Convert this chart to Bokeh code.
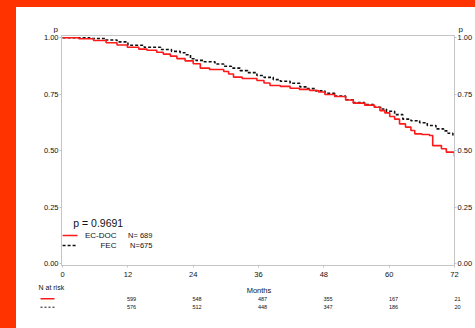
from bokeh.plotting import figure
from bokeh.models import (Range1d, LinearAxis, FixedTicker,
                          GlobalInlineStyleSheet, PrintfTickFormatter)
from bokeh.core.properties import value
from bokeh.embed import file_html
from bokeh.resources import INLINE

# ---------------- data ----------------
months_ecdoc = [0, 3, 5.7, 8, 10, 11.9, 14, 15.5, 17.3, 18.5, 19.8, 21, 22.5, 24,
                25.3, 27, 29.6, 30.5, 31.4, 33, 35.7, 37, 38.1, 40, 41.8, 43.5,
                45.4, 47, 48.2, 50, 52, 53.4, 55.5, 57.3, 58.3, 59.2, 60.1, 61,
                61.9, 63, 64, 64.7, 66, 67.4, 68, 69.6, 70.5, 71.3, 72]
surv_ecdoc = [1.000, 0.996, 0.988, 0.978, 0.968, 0.958, 0.950, 0.945, 0.936, 0.928,
              0.919, 0.908, 0.898, 0.885, 0.866, 0.860, 0.851, 0.840, 0.826, 0.820,
              0.811, 0.800, 0.789, 0.785, 0.777, 0.772, 0.767, 0.760, 0.749, 0.740,
              0.725, 0.711, 0.702, 0.693, 0.678, 0.668, 0.652, 0.640, 0.619, 0.605,
              0.590, 0.575, 0.572, 0.568, 0.523, 0.509, 0.494, 0.494, 0.475]

months_fec = [0, 5, 8, 10, 12, 15, 18, 20, 21.6, 22.5, 23.5, 24.5, 26, 28, 29.6,
              31, 32.6, 34, 35.7, 37, 38.7, 40, 41.8, 43.6, 45, 46.5, 48.2, 50, 52,
              53.4, 55.5, 57.3, 58.5, 59.5, 61, 62.5, 64, 65.6, 67, 68.6, 70, 70.8,
              71.7]
surv_fec = [1.000, 0.997, 0.990, 0.982, 0.967, 0.958, 0.948, 0.940, 0.934, 0.925,
            0.907, 0.900, 0.894, 0.884, 0.874, 0.866, 0.855, 0.846, 0.833, 0.825,
            0.815, 0.808, 0.799, 0.783, 0.775, 0.765, 0.755, 0.742, 0.726, 0.713,
            0.705, 0.693, 0.685, 0.675, 0.660, 0.640, 0.633, 0.624, 0.612, 0.597,
            0.588, 0.578, 0.560]

x_ticks = [0, 12, 24, 36, 48, 60, 72]
y_ticks = [0.0, 0.25, 0.5, 0.75, 1.0]

risk_months = [12, 24, 36, 48, 60, 72]
risk_ecdoc = [599, 548, 487, 355, 167, 21]
risk_fec = [576, 512, 448, 347, 186, 20]

name_ecdoc = "EC-DOC"
name_fec = "FEC"
n_ecdoc = 689
n_fec = 675
p_value = "0.9691"

# ---------------- styling ----------------
FONT = "Liberation Sans"
RED = "#ff1a1a"
BLACK = "#111111"
FRAME = "#c4c4c4"
ORANGE = "#ff3300"
W = 475


def bare(fig):
    fig.border_fill_color = None
    fig.background_fill_color = None
    fig.outline_line_color = None
    fig.grid.visible = False


# ---------------- header ("p" above both vertical axes) ----------------
h = figure(width=W, height=33, output_backend="svg", toolbar_location=None,
           x_range=Range1d(-11.36, 75.67), y_range=Range1d(33, 0), min_border=0,
           x_axis_location=None, y_axis_location=None)
bare(h)
h.text(x=[-0.82], y=[29], text=["p"], text_align="right", text_baseline="middle",
       text_font=value(FONT), text_font_size="8px", text_color="#111111")
h.text(x=[72.55], y=[29], text=["p"], text_align="left", text_baseline="middle",
       text_font=value(FONT), text_font_size="8px", text_color="#111111")

# ---------------- main KM plot ----------------
p = figure(width=W, height=247, output_backend="svg", toolbar_location=None,
           x_range=Range1d(-0.2, 72.0), y_range=Range1d(-0.0075, 1.0102),
           min_border_left=61, min_border_right=20, min_border_top=2,
           min_border_bottom=15)
p.border_fill_color = None
p.background_fill_color = "white"
p.outline_line_color = FRAME
p.outline_line_width = 1
p.grid.visible = False

p.xaxis.ticker = FixedTicker(ticks=x_ticks)
p.xaxis.formatter = PrintfTickFormatter(format="%d")
p.yaxis.ticker = FixedTicker(ticks=y_ticks)
p.yaxis.formatter = PrintfTickFormatter(format="%.2f")

right_axis = LinearAxis(ticker=FixedTicker(ticks=y_ticks),
                        formatter=PrintfTickFormatter(format="%.2f"))
p.add_layout(right_axis, "right")

for ax in p.axis:
    ax.axis_line_color = FRAME
    ax.major_tick_line_color = FRAME
    ax.major_tick_in = 0
    ax.major_tick_out = 2
    ax.minor_tick_line_color = None
    ax.major_label_text_font = FONT
    ax.major_label_text_font_size = "7.5px"
    ax.major_label_text_color = "#111111"
p.xaxis.major_label_standoff = 4
p.yaxis.major_label_standoff = 1
right_axis.major_label_standoff = 1

# curves
p.step(months_fec, surv_fec, mode="after", line_color=BLACK, line_width=1.6,
       line_dash="3 2")
p.step(months_ecdoc, surv_ecdoc, mode="after", line_color=RED, line_width=1.6)

# in-plot legend
p.text(x=[1.96], y=[0.181], text=[f"p = {p_value}"], text_align="left",
       text_baseline="middle", text_font=value(FONT), text_font_size="10.5px",
       text_color="#111111")
p.line([0, 2.75], [0.125, 0.125], line_color=RED, line_width=1.6)
p.line([0, 2.75], [0.081, 0.081], line_color=BLACK, line_width=1.5,
       line_dash="3 2")
p.text(x=[9.9, 9.9], y=[0.125, 0.081], text=[name_ecdoc, name_fec],
       text_align="right", text_baseline="middle", text_font=value(FONT),
       text_font_size="8px", text_color="#111111")
p.text(x=[16.5, 16.5], y=[0.125, 0.081],
       text=[f"N= {n_ecdoc}", f"N={n_fec}"], text_align="right",
       text_baseline="middle", text_font=value(FONT), text_font_size="7.5px",
       text_color="#111111")

# ---------------- number-at-risk table ----------------
t = figure(width=W, height=48, output_backend="svg", toolbar_location=None,
           x_range=Range1d(-11.36, 75.67), y_range=Range1d(48, 0),
           min_border=0, x_axis_location=None, y_axis_location=None)
bare(t)

t.text(x=[36], y=[10], text=["Months"], text_align="center",
       text_baseline="middle", text_font=value(FONT), text_font_size="7.5px",
       text_color="#111111")
t.text(x=[-4.4], y=[7.3], text=["N at risk"], text_align="left",
       text_baseline="middle", text_font=value(FONT), text_font_size="7px",
       text_color="#111111")
t.segment(x0=[-4.03], y0=[18.3], x1=[-1.47], y1=[18.3], line_color=RED,
          line_width=1.4)
t.segment(x0=[-4.03], y0=[26.7], x1=[-1.47], y1=[26.7], line_color=BLACK,
          line_width=1.0, line_dash="2 2")
t.text(x=[m - 0.2 for m in risk_months], y=[18.3] * len(risk_months),
       text=[str(v) for v in risk_ecdoc], text_align="left",
       text_baseline="middle", text_font=value(FONT), text_font_size="5.5px",
       text_color="#111111")
t.text(x=[m - 0.2 for m in risk_months], y=[26.7] * len(risk_months),
       text=[str(v) for v in risk_fec], text_align="left",
       text_baseline="middle", text_font=value(FONT), text_font_size="5.5px",
       text_color="#111111")

h.stylesheets = [GlobalInlineStyleSheet(css=(
    "html{background:"
    f"linear-gradient({ORANGE},{ORANGE}) 0 0/100% 7px no-repeat,"
    f"linear-gradient({ORANGE},{ORANGE}) 0 0/16px 100% no-repeat,#ffffff;}}"
    "body{background:transparent;line-height:0;}"))]

# three separate roots stacked vertically (no frame alignment between them)
open("out.html", "w").write(file_html([h, p, t], INLINE))
